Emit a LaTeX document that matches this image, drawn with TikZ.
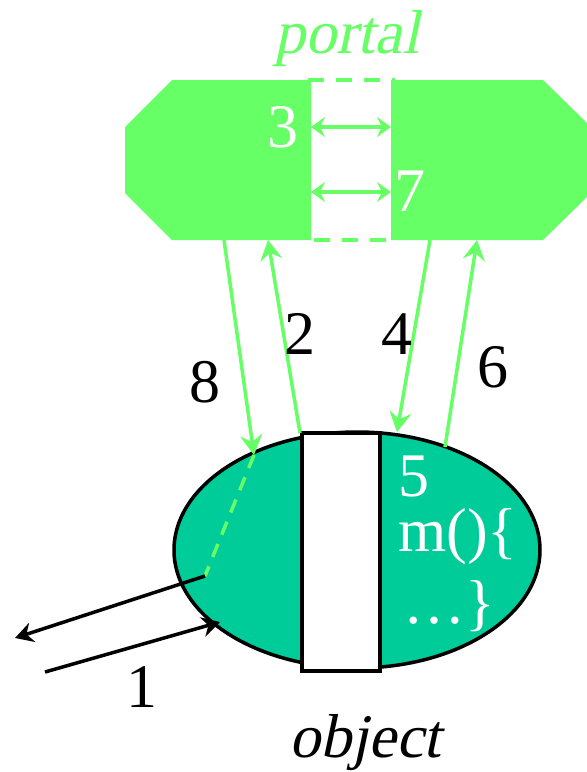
\documentclass[tikz,border=0pt]{standalone}
\usepackage{fontspec}
\setmainfont{Liberation Serif}
\newfontfamily\slantfont{Liberation Serif}[FakeSlant=0.21]
\usetikzlibrary{arrows.meta,shapes.geometric}

\definecolor{portalgreen}{RGB}{102,255,102}
\definecolor{objteal}{RGB}{0,204,153}

\tikzset{
  num/.style={inner sep=0pt,font=\fontsize{31}{37}\selectfont},
  caption/.style={inner sep=0pt,anchor=base,font=\fontsize{31}{37}\slantfont},
  msg/.style={-{Stealth[length=10pt,width=11pt,inset=3.5pt]},portalgreen,line width=1.75pt},
  hop/.style={{Stealth[length=7pt,width=10pt,inset=2.5pt]}-{Stealth[length=7pt,width=10pt,inset=2.5pt]},portalgreen,line width=1.75pt},
  call/.style={-{Stealth[length=9pt,width=10pt,inset=3pt]},black,line width=1.75pt},
}

\begin{document}
\begin{tikzpicture}[x=0.5pt,y=-0.5pt]
\useasboundingbox (0,0) rectangle (587,772);

% portal
\draw[portalgreen,line width=2pt,dash pattern=on 8pt off 6pt] (306,80) rectangle (393,240);
\fill[portalgreen] (125,127) -- (172,80) -- (311,80) -- (311,240) -- (172,240) -- (125,193) -- cycle;
\fill[portalgreen] (391,80) -- (543,80) -- (587,123) -- (587,197) -- (543,240) -- (391,240) -- cycle;
\node[caption,text=portalgreen] (plabel) at (347,53) {portal};
\node[num,text=white] (n3) at (283,127) {3};
\node[num,text=white] (n7) at (410,191) {7};
\coordinate (p3l) at (311,127); \coordinate (p3r) at (391,127);
\coordinate (p7l) at (311,192); \coordinate (p7r) at (391,192);
\draw[hop] (p3l) -- (p3r);
\draw[hop] (p7l) -- (p7r);

% object
\node[ellipse,draw,fill=objteal,line width=1.75pt,minimum width=183pt,minimum height=118pt,inner sep=0pt] (obj) at (357,550) {};
\node[draw,fill=white,line width=1.75pt,minimum width=39pt,minimum height=119pt,inner sep=0pt] (gate) at (341,552) {};
\node[num,text=white,anchor=west] (n5) at (398,476) {5};
\node[num,text=white,anchor=base west] (mopen) at (398,551) {m()\{};
\node[num,text=white,anchor=base west] (mclose) at (403,623) {…\}};
\node[caption] (olabel) at (365,757) {object};

% end points
\coordinate (b8) at (224,240); \coordinate (o8) at (254,455);
\coordinate (b2) at (268,240); \coordinate (o2) at (300,433);
\coordinate (b4) at (430,240); \coordinate (o4) at (397,432);
\coordinate (b6) at (477,240); \coordinate (o6) at (445,447);
\coordinate (inner) at (205,576);
\coordinate (out) at (15,638);
\coordinate (in) at (45,672); \coordinate (hit) at (220,622);

% messages
\draw[msg] (b8) -- (o8);
\draw[portalgreen,line width=1.75pt,dash pattern=on 7pt off 5pt] (o8) -- (inner);
\draw[call] (inner) -- (out);
\draw[call] (in) -- (hit);
\draw[msg] (o2) -- (b2);
\draw[msg] (b4) -- (o4);
\draw[msg] (o6) -- (b6);

\node[num] (l8) at (205,382) {8};
\node[num] (l2) at (300,334) {2};
\node[num] (l4) at (397,334) {4};
\node[num] (l6) at (493,367) {6};
\node[num] (l1) at (142,687) {1};
\end{tikzpicture}
\end{document}
